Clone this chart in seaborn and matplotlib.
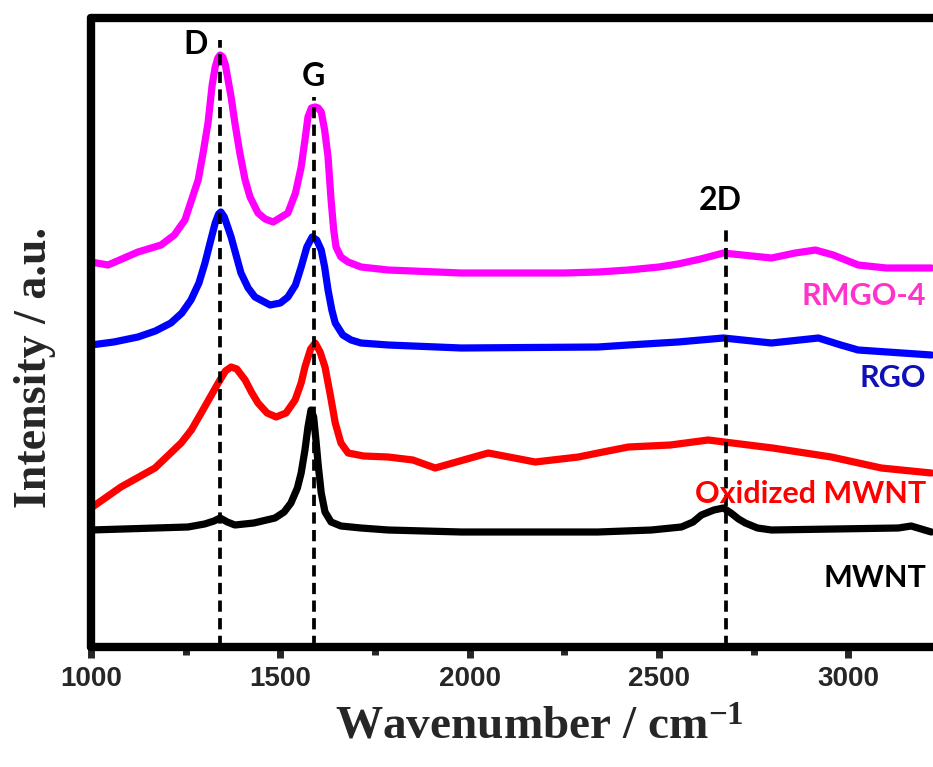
import numpy as np
import pandas as pd
import matplotlib
matplotlib.use("Agg")
import matplotlib.pyplot as plt
import seaborn as sns

# ---- data (wavenumber, intensity a.u. with vertical offsets as in the figure) ----
rmgo_x = [1000, 1045, 1124, 1185, 1220, 1248, 1283, 1296, 1309, 1320, 1328, 1335, 1341, 1348,
          1355, 1362, 1370, 1380, 1393, 1407, 1420, 1441, 1460, 1481, 1520, 1540, 1555, 1565,
          1573, 1582, 1592, 1600, 1608, 1617, 1626, 1634, 1641, 1647, 1660, 1679, 1713, 1785,
          1978, 2250, 2339, 2419, 2500, 2550, 2610, 2670, 2720, 2797, 2860, 2913, 2960, 3026,
          3100, 3219]
rmgo_y = [383, 380, 393, 400, 410, 425, 465, 492, 522, 560, 578, 587, 590, 588,
          580, 565, 548, 522, 492, 465, 448, 432, 426, 423, 432, 452, 478, 505,
          528, 537, 538, 537, 533, 515, 488, 445, 415, 398, 388, 383, 378, 375,
          372, 372, 373, 375, 378, 381, 386, 392, 390, 387, 392, 395, 390, 380,
          377, 377]

rgo_x = [1000, 1060, 1124, 1170, 1211, 1240, 1264, 1285, 1301, 1315, 1328, 1337, 1343, 1352,
         1362, 1370, 1383, 1396, 1415, 1433, 1473, 1500, 1520, 1540, 1555, 1570, 1584, 1596,
         1608, 1617, 1626, 1636, 1645, 1665, 1687, 1713, 1785, 1978, 2339, 2419, 2550, 2670,
         2797, 2921, 2980, 3026, 3219]
rgo_y = [300, 303, 308, 314, 322, 332, 345, 362, 382, 403, 422, 431, 433, 428,
         417, 408, 390, 372, 357, 348, 340, 342, 348, 360, 378, 398, 408, 405,
         395, 378, 355, 335, 322, 310, 305, 302, 300, 297, 298, 300, 303, 307,
         302, 307, 300, 295, 290]

ox_x = [1000, 1079, 1169, 1238, 1265, 1291, 1315, 1336, 1355, 1370, 1385, 1407, 1425, 1441,
        1465, 1489, 1515, 1539, 1555, 1565, 1580, 1592, 1605, 1618, 1632, 1645, 1660, 1679,
        1720, 1785, 1850, 1909, 2049, 2173, 2287, 2339, 2419, 2530, 2630, 2800, 2955, 3087,
        3219]
ox_y = [137, 158, 177, 202, 215, 232, 248, 262, 274, 278, 276, 265, 252, 242,
        232, 228, 232, 245, 262, 278, 296, 302, 293, 278, 250, 222, 202, 192,
        189, 188, 185, 177, 192, 183, 188, 192, 198, 200, 205, 197, 188, 177,
        172]

mwnt_x = [1000, 1256, 1300, 1325, 1341, 1360, 1380, 1430, 1486, 1510, 1528, 1545, 1555, 1565,
          1573, 1581, 1588, 1594, 1600, 1608, 1618, 1634, 1660, 1713, 1785, 1978, 2339, 2480,
          2559, 2590, 2612, 2645, 2670, 2690, 2710, 2728, 2760, 2797, 3132, 3166, 3219]
mwnt_y = [115, 118, 121, 124, 127, 123, 120, 122, 127, 133, 142, 157, 172, 195,
          218, 235, 228, 205, 180, 152, 133, 123, 119, 117, 115, 113, 113, 115,
          118, 123, 130, 135, 137, 132, 126, 122, 117, 115, 117, 119, 113]

series_names = ["RMGO-4", "RGO", "Oxidized MWNT", "MWNT"]
series_colors = ["#FF00FF", "#0000FF", "#FF0000", "#000000"]
label_colors = ["#FF33CC", "#1010B8", "#FF0000", "#000000"]
label_y = [349, 267, 151, 67]

peak_names = ["D", "G", "2D"]
peak_pos = [1341, 1590, 2677]
peak_top = [605, 548, 417]
peak_label_x = [1277, 1587, 2662]
peak_label_y = [600, 568, 444]

xticks_major = [1000, 1500, 2000, 2500, 3000]
xticks_minor = [1250, 1750, 2250, 2750]

# ---- build table ----
frames = []
for name, xs, ys in zip(series_names, [rmgo_x, rgo_x, ox_x, mwnt_x], [rmgo_y, rgo_y, ox_y, mwnt_y]):
    frames.append(pd.DataFrame({"wn": xs, "I": ys, "sample": name}))
df = pd.concat(frames, ignore_index=True)

sns.set_style("white")
plt.rcParams["mathtext.default"] = "regular"

fig = plt.figure(figsize=(9.33, 7.67), dpi=100)
ax = fig.add_axes([91 / 933, 1 - 647 / 767, 852 / 933, (647 - 18) / 767])

sns.lineplot(data=df, x="wn", y="I", hue="sample", hue_order=series_names,
             palette=dict(zip(series_names, series_colors)), estimator=None, sort=False,
             linewidth=5.2, legend=False, ax=ax)
for ln in ax.lines:
    ln.set_solid_joinstyle("round")
    ln.set_solid_capstyle("round")

ax.vlines(peak_pos, -2, peak_top, colors="black", linestyles=(0, (3.0, 1.7)),
          linewidth=2.7, zorder=5)

for name, px, py in zip(peak_names, peak_label_x, peak_label_y):
    ax.text(px, py, name, ha="center", va="center", fontsize=23, fontweight="bold",
            family=["Lato", "DejaVu Sans"], color="black", zorder=6)

for name, c, ly in zip(series_names, label_colors, label_y):
    ax.text(3205, ly, name, ha="right", va="center", fontsize=22, fontweight="bold",
            family=["Lato", "DejaVu Sans"], color=c, zorder=6)

ax.set_xlim(1000, 3250)
ax.set_ylim(-2, 627)
ax.set_yticks([])
ax.set_xticks(xticks_major)
ax.set_xticks(xticks_minor, minor=True)
ax.set_xticklabels([str(t) for t in xticks_major], fontsize=20, fontweight="bold",
                   family=["Liberation Sans", "DejaVu Sans"])
ax.tick_params(axis="x", which="major", direction="out", length=8, width=5, pad=6, bottom=True)
ax.tick_params(axis="x", which="minor", direction="out", length=6, width=5, bottom=True)
for t in ax.xaxis.get_ticklines() + ax.xaxis.get_ticklines(minor=True):
    t.set_solid_capstyle("round")

for side in ["left", "bottom", "top", "right"]:
    ax.spines[side].set_linewidth(6)
    ax.spines[side].set_color("black")
    ax.spines[side].set_capstyle("round")

ax.set_xlabel("Wavenumber / cm$^{-1}$", fontsize=34, fontweight="bold",
              family=["Liberation Serif", "DejaVu Serif"])
ax.xaxis.set_label_coords((539 - 91) / 852, -0.095)
ax.set_ylabel("Intensity / a.u.", fontsize=33, fontweight="bold",
              family=["Liberation Serif", "DejaVu Serif"])
ax.yaxis.set_label_coords(-(91 - 56) / 852, (647 - 367) / 629)

fig.savefig("out.png", dpi=100)
